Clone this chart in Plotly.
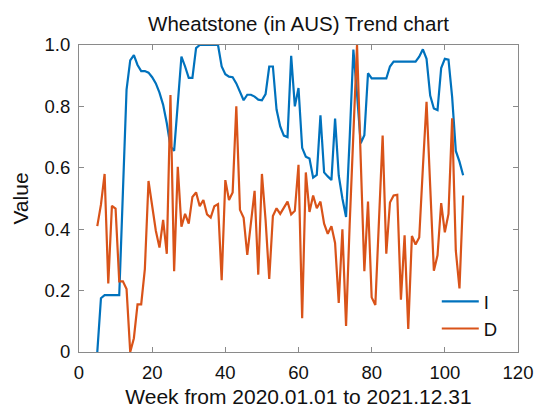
import plotly.graph_objects as go

# Weekly index values, weeks 5..105
weeks = list(range(5, 106))

series_i = [
    0.0, 0.175, 0.185, 0.185, 0.185, 0.185, 0.185, 0.52, 0.855, 0.95,      # 5-14
    0.967, 0.935, 0.915, 0.915, 0.91, 0.895, 0.875, 0.845, 0.805, 0.745,   # 15-24
    0.67, 0.655, 0.81, 0.962, 0.93, 0.893, 0.893, 0.99, 1.0, 1.0,          # 25-34
    1.0, 1.0, 1.0, 1.0, 0.93, 0.905, 0.897, 0.895, 0.875, 0.845,           # 35-44
    0.82, 0.838, 0.838, 0.832, 0.822, 0.82, 0.84, 0.93, 0.93, 0.79,        # 45-54
    0.735, 0.705, 0.70, 0.965, 0.80, 0.86, 0.665, 0.636, 0.63, 0.568,      # 55-64
    0.577, 0.771, 0.585, 0.572, 0.56, 0.76, 0.575, 0.50, 0.44, 0.70,       # 65-74
    0.985, 0.84, 0.68, 0.706, 0.908, 0.891, 0.891, 0.891, 0.891, 0.891,    # 75-84
    0.93, 0.946, 0.946, 0.946, 0.946, 0.946, 0.946, 0.946, 0.962, 0.986,   # 85-94
    0.955, 0.835, 0.793, 0.788, 0.925, 0.955, 0.952, 0.83, 0.655, 0.62,    # 95-104
    0.576,                                                                 # 105
]

series_d = [
    0.41, 0.48, 0.58, 0.223, 0.476, 0.467, 0.23, 0.23, 0.205, 0.0,         # 5-14
    0.045, 0.155, 0.155, 0.27, 0.557, 0.478, 0.395, 0.34, 0.43, 0.32,      # 15-24
    0.837, 0.263, 0.603, 0.408, 0.45, 0.418, 0.505, 0.52, 0.475, 0.495,    # 25-34
    0.448, 0.438, 0.475, 0.482, 0.234, 0.56, 0.495, 0.52, 0.80, 0.463,     # 35-44
    0.437, 0.316, 0.42, 0.525, 0.252, 0.58, 0.43, 0.238, 0.443, 0.468,     # 45-54
    0.45, 0.468, 0.49, 0.448, 0.46, 0.61, 0.11, 0.585, 0.456, 0.51,        # 55-64
    0.468, 0.49, 0.418, 0.385, 0.41, 0.355, 0.16, 0.40, 0.085, 0.42,       # 65-74
    0.70, 1.0, 0.63, 0.263, 0.49, 0.178, 0.153, 0.43, 0.705, 0.32,         # 75-84
    0.487, 0.51, 0.512, 0.17, 0.38, 0.075, 0.378, 0.35, 0.373, 0.60,       # 85-94
    0.815, 0.54, 0.265, 0.315, 0.485, 0.39, 0.45, 0.761, 0.33, 0.207,      # 95-104
    0.51,                                                                  # 105
]

x_ticks = [0, 20, 40, 60, 80, 100, 120]
y_ticks = [0, 0.2, 0.4, 0.6, 0.8, 1.0]
y_tick_text = ["0", "0.2", "0.4", "0.6", "0.8", "1.0"]

FONT = "Liberation Sans, Arial, sans-serif"
AXIS_COLOR = "#8a8a8a"

fig = go.Figure()
fig.add_trace(go.Scatter(x=weeks, y=series_i, mode="lines", name="I",
                         line=dict(color="#0072BD", width=2.2)))
fig.add_trace(go.Scatter(x=weeks, y=series_d, mode="lines", name="D",
                         line=dict(color="#D95319", width=2.2)))

axis_common = dict(
    showline=True, linecolor=AXIS_COLOR, linewidth=1, mirror="ticks",
    ticks="inside", ticklen=5, tickcolor=AXIS_COLOR, tickwidth=1,
    showgrid=False, zeroline=False,
    tickfont=dict(family=FONT, size=18.5, color="#111111"),
)

fig.update_xaxes(range=[0, 120], tickvals=x_ticks, ticklabelstandoff=4,
                 title=dict(text="Week from 2020.01.01 to 2021.12.31",
                            font=dict(family=FONT, size=21, color="#111111"),
                            standoff=7),
                 **axis_common)
fig.update_yaxes(range=[0, 1], tickvals=y_ticks, ticktext=y_tick_text,
                 ticklabelstandoff=4,
                 title=dict(text="Value",
                            font=dict(family=FONT, size=21, color="#111111"),
                            standoff=10),
                 **axis_common)

fig.update_layout(
    width=537, height=411,
    margin=dict(l=79, r=19, t=45, b=59, autoexpand=False),
    paper_bgcolor="white", plot_bgcolor="white",
    title=dict(text="Wheatstone (in AUS) Trend chart",
               font=dict(family=FONT, size=20.5, color="#111111"),
               x=0.5, xref="paper", xanchor="center",
               y=1 - 23.5 / 411, yref="container", yanchor="middle"),
    legend=dict(x=0.815, y=0.225, xanchor="left", yanchor="top",
                bgcolor="rgba(0,0,0,0)", borderwidth=0, itemwidth=37,
                font=dict(family=FONT, size=18.5, color="#111111")),
    showlegend=True,
)

fig.write_html("out.html")
